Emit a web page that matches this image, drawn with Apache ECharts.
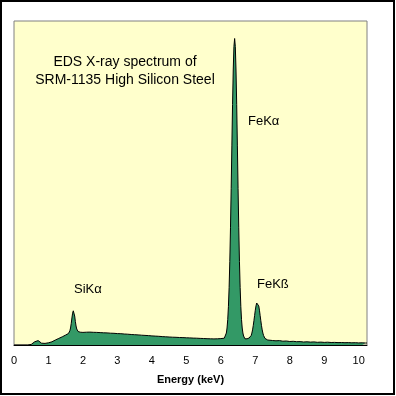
<!DOCTYPE html>
<html>
<head>
<meta charset="utf-8">
<script src="https://cdn.jsdelivr.net/npm/echarts@6/dist/echarts.min.js"></script>
<style>html,body{margin:0;padding:0;background:#fff;}#c{width:396px;height:396px;}</style>
</head>
<body>
<div id="c"></div>
<script>
// Energy (keV) channels and counts (arbitrary units)
const energy = [
  0.00,0.40,0.44,0.50,0.55,0.60,0.65,0.70,0.75,0.80,0.85,0.90,0.95,
  1.00,1.05,1.10,1.15,1.20,1.25,1.30,1.35,1.40,1.45,1.50,1.55,1.58,
  1.60,1.62,1.64,1.66,1.68,1.70,1.72,1.74,1.76,1.78,1.80,1.82,1.84,1.86,1.88,1.92,1.96,
  2.00,2.05,2.10,2.15,2.20,2.25,2.30,2.35,2.40,2.45,2.50,2.55,2.60,2.65,2.70,2.75,2.80,2.85,2.90,2.95,
  3.00,3.05,3.10,3.15,3.20,3.25,3.30,3.35,3.40,3.45,3.50,3.55,3.60,3.65,3.70,3.75,3.80,3.85,3.90,3.95,
  4.00,4.05,4.10,4.15,4.20,4.25,4.30,4.35,4.40,4.45,4.50,4.55,4.60,4.65,4.70,4.75,4.80,4.85,4.90,4.95,
  5.00,5.05,5.10,5.15,5.20,5.25,5.30,5.35,5.40,5.45,5.50,5.55,5.60,5.65,5.70,5.75,5.80,5.85,5.90,5.95,
  6.00,6.05,6.10,6.13,
  6.16,6.18,6.20,6.22,6.24,6.26,6.28,6.30,6.32,6.34,6.36,6.38,6.40,6.42,6.44,6.46,6.48,6.50,
  6.52,6.54,6.56,6.58,6.60,6.62,6.64,6.66,6.68,6.70,6.72,6.74,6.76,6.78,6.80,6.82,6.84,
  6.86,6.88,6.90,6.92,6.94,6.96,6.98,7.00,7.02,7.04,7.06,7.08,7.10,7.12,7.14,7.16,7.18,7.20,
  7.22,7.24,7.26,7.28,7.30,7.32,7.36,
  7.40,7.50,7.60,7.70,7.80,7.90,8.00,8.10,8.20,8.30,8.40,8.50,8.60,8.70,8.80,8.90,
  9.00,9.10,9.20,9.30,9.40,9.50,9.60,9.70,9.80,9.90,10.00,10.10,10.20,10.24
];
const counts = [
  0,0,0,6,18,32,43,44,32,18,14,16,20,
  22,26,32,40,50,58,66,74,82,92,100,108,115,
  125,142,170,215,270,318,342,335,290,235,190,160,145,135,130,128,125,
  126,131,128,133,129,132,127,131,126,129,124,128,122,126,121,124,118,122,117,120,
  114,118,113,116,110,113,108,111,105,108,103,106,101,103,98,101,96,99,94,96,
  91,94,89,91,87,89,84,87,82,85,80,83,78,81,77,79,75,78,74,76,
  72,75,71,73,69,72,68,70,66,69,65,67,63,66,62,64,61,63,62,65,
  64,67,68,75,
  120,170,253,383,575,836,1172,1565,1991,2405,2750,2984,3065,2984,2750,2405,1991,1565,
  1172,836,575,383,253,170,120,90,72,62,58,58,62,64,66,70,74,
  79,95,119,151,193,243,296,348,391,420,430,420,391,348,296,243,193,151,
  119,95,79,66,58,54,50,
  48,45,42,44,38,40,35,37,33,34,30,32,29,31,27,29,
  26,28,25,26,24,25,23,24,22,23,21,22,20,20
];
const xTicks = [0,1,2,3,4,5,6,7,8,9,10];
const titleLines = ['EDS X-ray spectrum of', 'SRM-1135 High Silicon Steel'];
const peakLabels = ['FeKα', 'SiKα', 'FeKß'];
const axisTitle = 'Energy (keV)';

const data = energy.map((e, i) => [e, counts[i]]);
const FONT = '"Liberation Sans", Arial, sans-serif';

const chart = echarts.init(document.getElementById('c'), null, {renderer: 'canvas'});
chart.setOption({
  animation: false,
  backgroundColor: '#ffffff',
  grid: {
    left: 14, right: 29, top: 21, bottom: 51,
    show: true, backgroundColor: '#FFFFCC', borderColor: '#808080', borderWidth: 1
  },
  xAxis: {
    type: 'value', min: 0, max: 10.24, interval: 1,
    axisLine: {show: true, lineStyle: {color: '#000', width: 1}},
    axisTick: {show: false},
    splitLine: {show: false},
    axisLabel: {
      color: '#000', fontSize: 11, fontFamily: FONT, margin: 10,
      showMaxLabel: false,
      formatter: v => xTicks.indexOf(Math.round(v)) >= 0 && Math.abs(v - Math.round(v)) < 1e-6 ? String(Math.round(v)) : ''
    },
    name: axisTitle, nameLocation: 'middle', nameGap: 29,
    nameTextStyle: {color: '#000', fontSize: 11, fontWeight: 'bold', fontFamily: FONT}
  },
  yAxis: {
    type: 'value', min: 0, max: 3240, show: false,
    splitLine: {show: false}
  },
  series: [{
    type: 'line',
    data: data,
    showSymbol: false,
    symbol: 'none',
    lineStyle: {color: '#000', width: 1},
    areaStyle: {color: '#339966', opacity: 1},
    z: 3
  }],
  graphic: [
    {type: 'rect', shape: {x: 1, y: 1, width: 393, height: 393},
     style: {fill: 'none', stroke: '#000', lineWidth: 2}, silent: true, z: 100},
    {type: 'text', x: 125, y: 62, style: {text: titleLines[0], font: '14px ' + FONT, fill: '#000', textAlign: 'center', textVerticalAlign: 'middle'}, z: 50},
    {type: 'text', x: 125, y: 80, style: {text: titleLines[1], font: '14px ' + FONT, fill: '#000', textAlign: 'center', textVerticalAlign: 'middle'}, z: 50},
    {type: 'text', x: 248, y: 121, style: {text: peakLabels[0], font: '13px ' + FONT, fill: '#000', textAlign: 'left', textVerticalAlign: 'middle'}, z: 50},
    {type: 'text', x: 74, y: 289, style: {text: peakLabels[1], font: '13px ' + FONT, fill: '#000', textAlign: 'left', textVerticalAlign: 'middle'}, z: 50},
    {type: 'text', x: 257, y: 284, style: {text: peakLabels[2], font: '13px ' + FONT, fill: '#000', textAlign: 'left', textVerticalAlign: 'middle'}, z: 50}
  ]
});
</script>
</body>
</html>
